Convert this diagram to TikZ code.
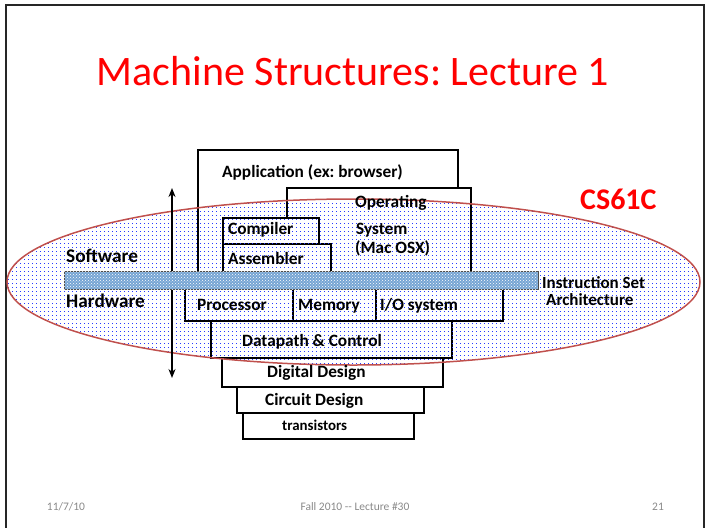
\documentclass[tikz,border=0pt]{standalone}
\usepackage{fontspec}
\setmainfont{Carlito}
\usetikzlibrary{arrows.meta,patterns}
\frenchspacing

\definecolor{titlered}{RGB}{255,0,0}
\definecolor{ovalred}{RGB}{192,80,77}
\definecolor{isablue}{RGB}{118,165,212}
\definecolor{dotblue}{RGB}{40,60,255}
\definecolor{footgray}{RGB}{137,137,137}

\begin{document}
\begin{tikzpicture}[
        x=1pt, y=-1pt,
        layer/.style={draw=black, line width=2pt, fill=white},
        lbl/.style={anchor=base west, inner sep=0pt, font=\fontsize{17.3}{20}\selectfont\bfseries},
        side/.style={lbl, font=\fontsize{19.3}{22}\selectfont\bfseries},
        foot/.style={inner sep=0pt, anchor=base, text=footgray, font=\fontsize{11.5}{13}\selectfont}
      ]
      \useasboundingbox (0,0) rectangle (705,528);
      % slide frame, open at the bottom
      \draw[line width=2pt, black!85] (6,530) -- (6,5) -- (704,5) -- (704,530);

      \node[anchor=base, inner sep=0pt, text=titlered, font=\fontsize{42}{50}\selectfont]
        (title) at (353,85) {Machine Structures: Lecture 1};

      % software side
      \draw[layer] (198,150) rectangle (458,285);
      \draw[layer] (287,188) rectangle (471,285);
      \draw[layer] (223,218) rectangle (319,244);
      \draw[layer] (223,244) rectangle (331,285);

      % hardware side
      \draw[layer] (185,285) rectangle (293,321);
      \draw[layer] (293,285) rectangle (376,321);
      \draw[layer] (376,285) rectangle (503,321);
      \draw[layer] (211,321) rectangle (452,358);
      \draw[layer] (222,358) rectangle (443,387);
      \draw[layer] (237,387) rectangle (424,413);
      \draw[layer] (243,413) rectangle (414,439);

      % the course oval: a loose grid of blue dots
      \begin{scope}
        \clip (353.5,282) ellipse [x radius=346.5, y radius=83];
        \fill[dotblue] \foreach \i in {0,...,174} {\foreach \j in {0,...,42} {(8+4*\i,199+4*\j) rectangle ++(0.8,0.8)}};
      \end{scope}
      \draw[ovalred, line width=1.5pt] (353.5,282) ellipse [x radius=346.5, y radius=83];

      \coordinate (up) at (172,188);
      \coordinate (down) at (172,378);
      \draw[line width=2pt, {Stealth[length=9pt,width=7pt]}-{Stealth[length=9pt,width=7pt]}] (up) -- (down);

      % instruction set bar
      \draw[black!70, line width=0.8pt, fill=isablue, postaction={pattern=crosshatch dots, pattern color=white}]
        (64,271) rectangle (538,289);

      \node[lbl] (app) at (222,177) {Application (ex: browser)};
      \node[lbl] (os1) at (355,207) {Operating};
      \node[lbl] (os2) at (356,234) {System};
      \node[lbl] (os3) at (355,253) {(Mac OSX)};
      \node[lbl] (comp) at (228,234) {Compiler};
      \node[lbl] (asm) at (228,264) {Assembler};
      \node[side] (sw) at (66,262) {Software};
      \node[side] (hw) at (66,307) {Hardware};
      \node[lbl] (proc) at (197,310) {Processor};
      \node[lbl] (mem) at (298,310) {Memory};
      \node[lbl] (io) at (380,310) {I/O system};
      \node[lbl] (dp) at (242,346) {Datapath \& Control};
      \node[lbl] (dig) at (267,377) {Digital Design};
      \node[lbl] (circ) at (265,405) {Circuit Design};
      \node[lbl, font=\fontsize{14.9}{17}\selectfont\bfseries] (tr) at (282,430) {transistors};
      \node[lbl, font=\fontsize{17}{19}\selectfont\bfseries] (isa1) at (542,288) {Instruction Set};
      \node[lbl, font=\fontsize{17}{19}\selectfont\bfseries] (isa2) at (546,305) {Architecture};
      \node[lbl, text=titlered, font=\fontsize{30}{34}\selectfont\bfseries] (cs) at (580,209) {CS61C};

      \node[foot] (date) at (66,510) {11/7/10};
      \node[foot] (lect) at (355,510) {Fall 2010 -{}- Lecture \#30};
      \node[foot] (page) at (658,510) {21};
    \end{tikzpicture}
\end{document}
